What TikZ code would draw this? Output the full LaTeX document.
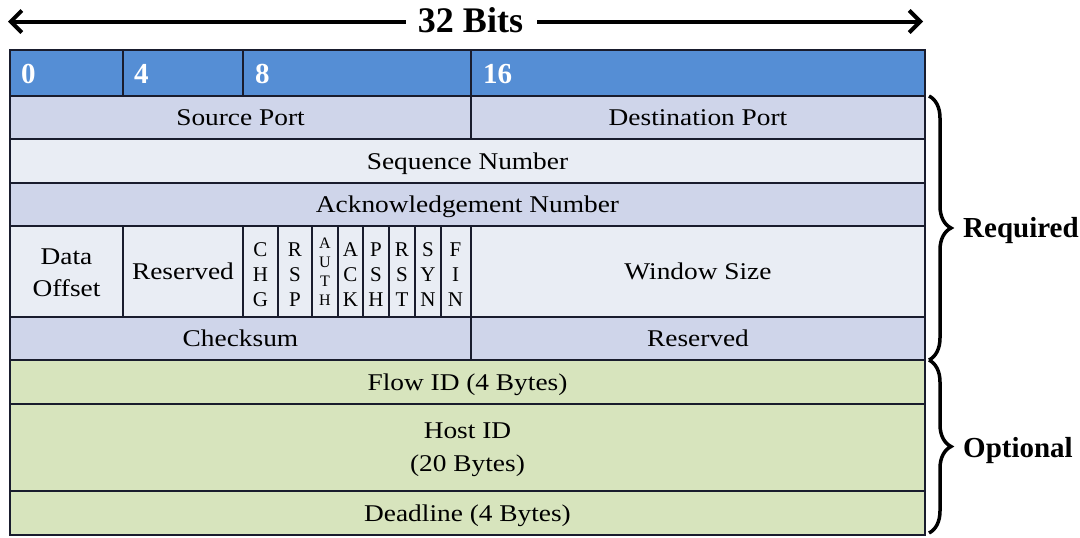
\documentclass[tikz,border=0pt]{standalone}
\usepackage{fontspec}
\setmainfont{Liberation Serif}
\usetikzlibrary{arrows.meta,decorations.pathreplacing}
\definecolor{hdr}{RGB}{85,142,213}
\definecolor{rowd}{RGB}{207,213,234}
\definecolor{rowl}{RGB}{233,237,244}
\definecolor{grn}{RGB}{215,228,189}
\definecolor{lin}{RGB}{25,28,45}
\newcommand{\wt}[1]{\scalebox{1.14}[1]{#1}}
\begin{document}
\begin{tikzpicture}[x=1pt,y=-1pt,
  gridline/.style={draw=lin, line width=1.2pt},
  lbl/.style={font=\fontsize{24}{32}\selectfont, inner sep=0pt, anchor=base},
  lbltwo/.style={font=\fontsize{24}{32}\selectfont, inner sep=0pt, align=center},
  lblhost/.style={font=\fontsize{24}{33}\selectfont, inner sep=0pt, align=center},
  hnum/.style={font=\fontsize{29}{29}\selectfont\bfseries, text=white, anchor=base west, inner sep=0pt},
  flagtxt/.style={font=\fontsize{21}{25}\selectfont, inner sep=0pt, align=center},
  flagsmall/.style={font=\fontsize{16}{19}\selectfont, inner sep=0pt, align=center},
  side/.style={font=\fontsize{29}{29}\selectfont\bfseries, anchor=base west, inner sep=0pt},
  widtharrow/.style={line width=4pt, -{Straight Barb[length=11pt,width=22pt]}},
  bracestyle/.style={line width=3.5pt, decorate, decoration={brace, amplitude=22pt}}
]
\useasboundingbox (0,0) rectangle (1080,538);

% fills
\fill[hdr] (10,50) rectangle (925,96);
\fill[rowd] (10,96) rectangle (925,139);
\fill[rowl] (10,139) rectangle (925,183);
\fill[rowd] (10,183) rectangle (925,226);
\fill[rowl] (10,226) rectangle (925,317);
\fill[rowd] (10,317) rectangle (925,360);
\fill[grn] (10,360) rectangle (925,535);

% horizontal lines
\foreach \yy in {96,139,183,226,317,360,404,491}
  \draw[gridline] (10,\yy) -- (925,\yy);
\draw[gridline] (10,50) rectangle (925,535);
% vertical lines
\draw[gridline] (123,50) -- (123,96);
\draw[gridline] (243,50) -- (243,96);
\draw[gridline] (471,50) -- (471,139);
\draw[gridline] (123,226) -- (123,317);
\draw[gridline] (471,226) -- (471,360);
\foreach \xx in {243,278,312,338,363,389,415,441}
  \draw[gridline] (\xx,226) -- (\xx,317);

% header numbers
\node[hnum] (h0) at (21,83) {0};
\node[hnum] (h4) at (134,83) {4};
\node[hnum] (h8) at (255,83) {8};
\node[hnum] (h16) at (483,83) {16};

% labels
\node[lbl] (src) at (240.5,125.5) {\wt{Source Port}};
\node[lbl] (dst) at (698,125.5) {\wt{Destination Port}};
\node[lbl] (seq) at (467.5,169) {\wt{Sequence Number}};
\node[lbl] (ack) at (467.5,212.5) {\wt{Acknowledgement Number}};
\node[lbltwo] (doff) at (66.5,273) {\wt{Data}\\\wt{Offset}};
\node[lbl] (res1) at (183,279.5) {\wt{Reserved}};
\node[flagtxt] (chg) at (260.5,274.5) {C\\H\\G};
\node[flagtxt] (rsp) at (295,274.5) {R\\S\\P};
\node[flagsmall] (auth) at (325,272) {A\\U\\T\\H};
\node[flagtxt] (fack) at (350.5,274.5) {A\\C\\K};
\node[flagtxt] (psh) at (376,274.5) {P\\S\\H};
\node[flagtxt] (rst) at (402,274.5) {R\\S\\T};
\node[flagtxt] (syn) at (428,274.5) {S\\Y\\N};
\node[flagtxt] (fin) at (455.5,274.5) {F\\I\\N};
\node[lbl] (win) at (698,279.5) {\wt{Window Size}};
\node[lbl] (chk) at (240.5,346.5) {\wt{Checksum}};
\node[lbl] (res2) at (698,346.5) {\wt{Reserved}};
\node[lbl] (flow) at (467.5,390) {\wt{Flow ID (4 Bytes)}};
\node[lblhost] (host) at (467.5,450) {\wt{Host ID}\\\wt{(20 Bytes)}};
\node[lbl] (dead) at (467.5,521) {\wt{Deadline (4 Bytes)}};

% width arrow
\node[font=\fontsize{36}{36}\selectfont\bfseries, inner sep=0pt, anchor=base] (bits) at (470.5,32) {32 Bits};
\coordinate (lt) at (8,21.5);
\coordinate (rt) at (923,21.5);
\draw[widtharrow] (bits.west |- lt) ++(-12,0) coordinate (bl) -- (lt);
\draw[widtharrow] (bits.east |- rt) ++(14,0) coordinate (br) -- (rt);

% braces
\coordinate (rq1) at (929,96);
\coordinate (rq2) at (929,360);
\coordinate (op1) at (929,360);
\coordinate (op2) at (929,533);
\draw[bracestyle] (rq1) -- (rq2);
\draw[bracestyle] (op1) -- (op2);
\node[side] (req) at (963,237) {Required};
\node[side] (opt) at (963,457) {Optional};
\end{tikzpicture}
\end{document}
